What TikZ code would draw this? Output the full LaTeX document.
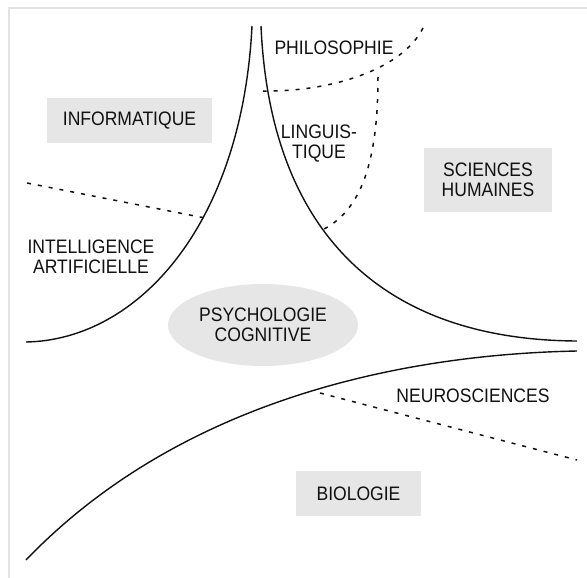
\documentclass[tikz,border=0pt]{standalone}
\usepackage{fontspec}
\setmainfont{Liberation Sans}[FakeStretch=0.9]
\usetikzlibrary{shapes.geometric}
\definecolor{boxgray}{HTML}{E6E6E6}
\definecolor{framegray}{HTML}{E3E3E3}
\definecolor{inkgray}{HTML}{111111}
\begin{document}
\begin{tikzpicture}[x=1pt,y=-1pt,
    field/.style={font=\fontsize{19.5}{20}\selectfont, text=inkgray, align=center, inner sep=0pt},
    fieldbox/.style={field, fill=boxgray},
    limit/.style={line width=1.4pt, draw=inkgray},
    border/.style={line width=2pt, draw=framegray},
    dashlimit/.style={line width=1.5pt, draw=inkgray, dash pattern=on 4pt off 7pt}]

        % 画布大小
        \useasboundingbox (0,0) rectangle (587,578);

        % 绘制边框
        \draw[border] (9,578) -- (9,8) -- (587,8);

        % 绘制三条实线边界
        \draw[limit] (252,26) .. controls (242,225) and (138,340) .. (26,342); % 左上曲线
        \draw[limit] (261,26) .. controls (270,230) and (380,340) .. (577,341); % 右上曲线
        \draw[limit] (26,560) .. controls (170,410) and (380,355) .. (577,351); % 下方曲线

        % 虚线与曲线的交点
        \coordinate (ai) at (205,218);
        \coordinate (philo) at (263,91);
        \coordinate (corner) at (378,77);
        \coordinate (ling) at (320,231);
        \coordinate (neuro) at (320,393);

        % 绘制虚线
        \draw[dashlimit] (27,183) -- (ai); % 人工智能分界
        \draw[dashlimit] (423,28) .. controls (402,70) and (330,92) .. (philo); % 哲学分界
        \draw[dashlimit] (corner) .. controls (378,160) and (362,212) .. (ling); % 语言学分界
        \draw[dashlimit] (neuro) -- (577,460); % 神经科学分界

        % 灰色方框标签
        \node[fieldbox, minimum width=165pt, minimum height=45pt] (info) at (129.5,120.5) {INFORMATIQUE};
        \node[fieldbox, minimum width=128pt, minimum height=64pt] (sh) at (488,180) {SCIENCES\\HUMAINES};
        \node[fieldbox, minimum width=125pt, minimum height=45pt] (bio) at (358.5,493.5) {BIOLOGIE};

        % 椭圆标签
        \node[field, ellipse, fill=boxgray, minimum width=190pt, minimum height=82pt] (psy) at (263,325) {PSYCHOLOGIE\\COGNITIVE};

        % 其他文字
        \node[field] (phil) at (334,48) {PHILOSOPHIE};
        \node[field] (lingu) at (319,144) {LINGUIS-\\TIQUE};
        \node[field] (ia) at (91,257) {INTELLIGENCE\\ARTIFICIELLE};
        \node[field] (neurolab) at (473,396) {NEUROSCIENCES};

\end{tikzpicture}
\end{document}
